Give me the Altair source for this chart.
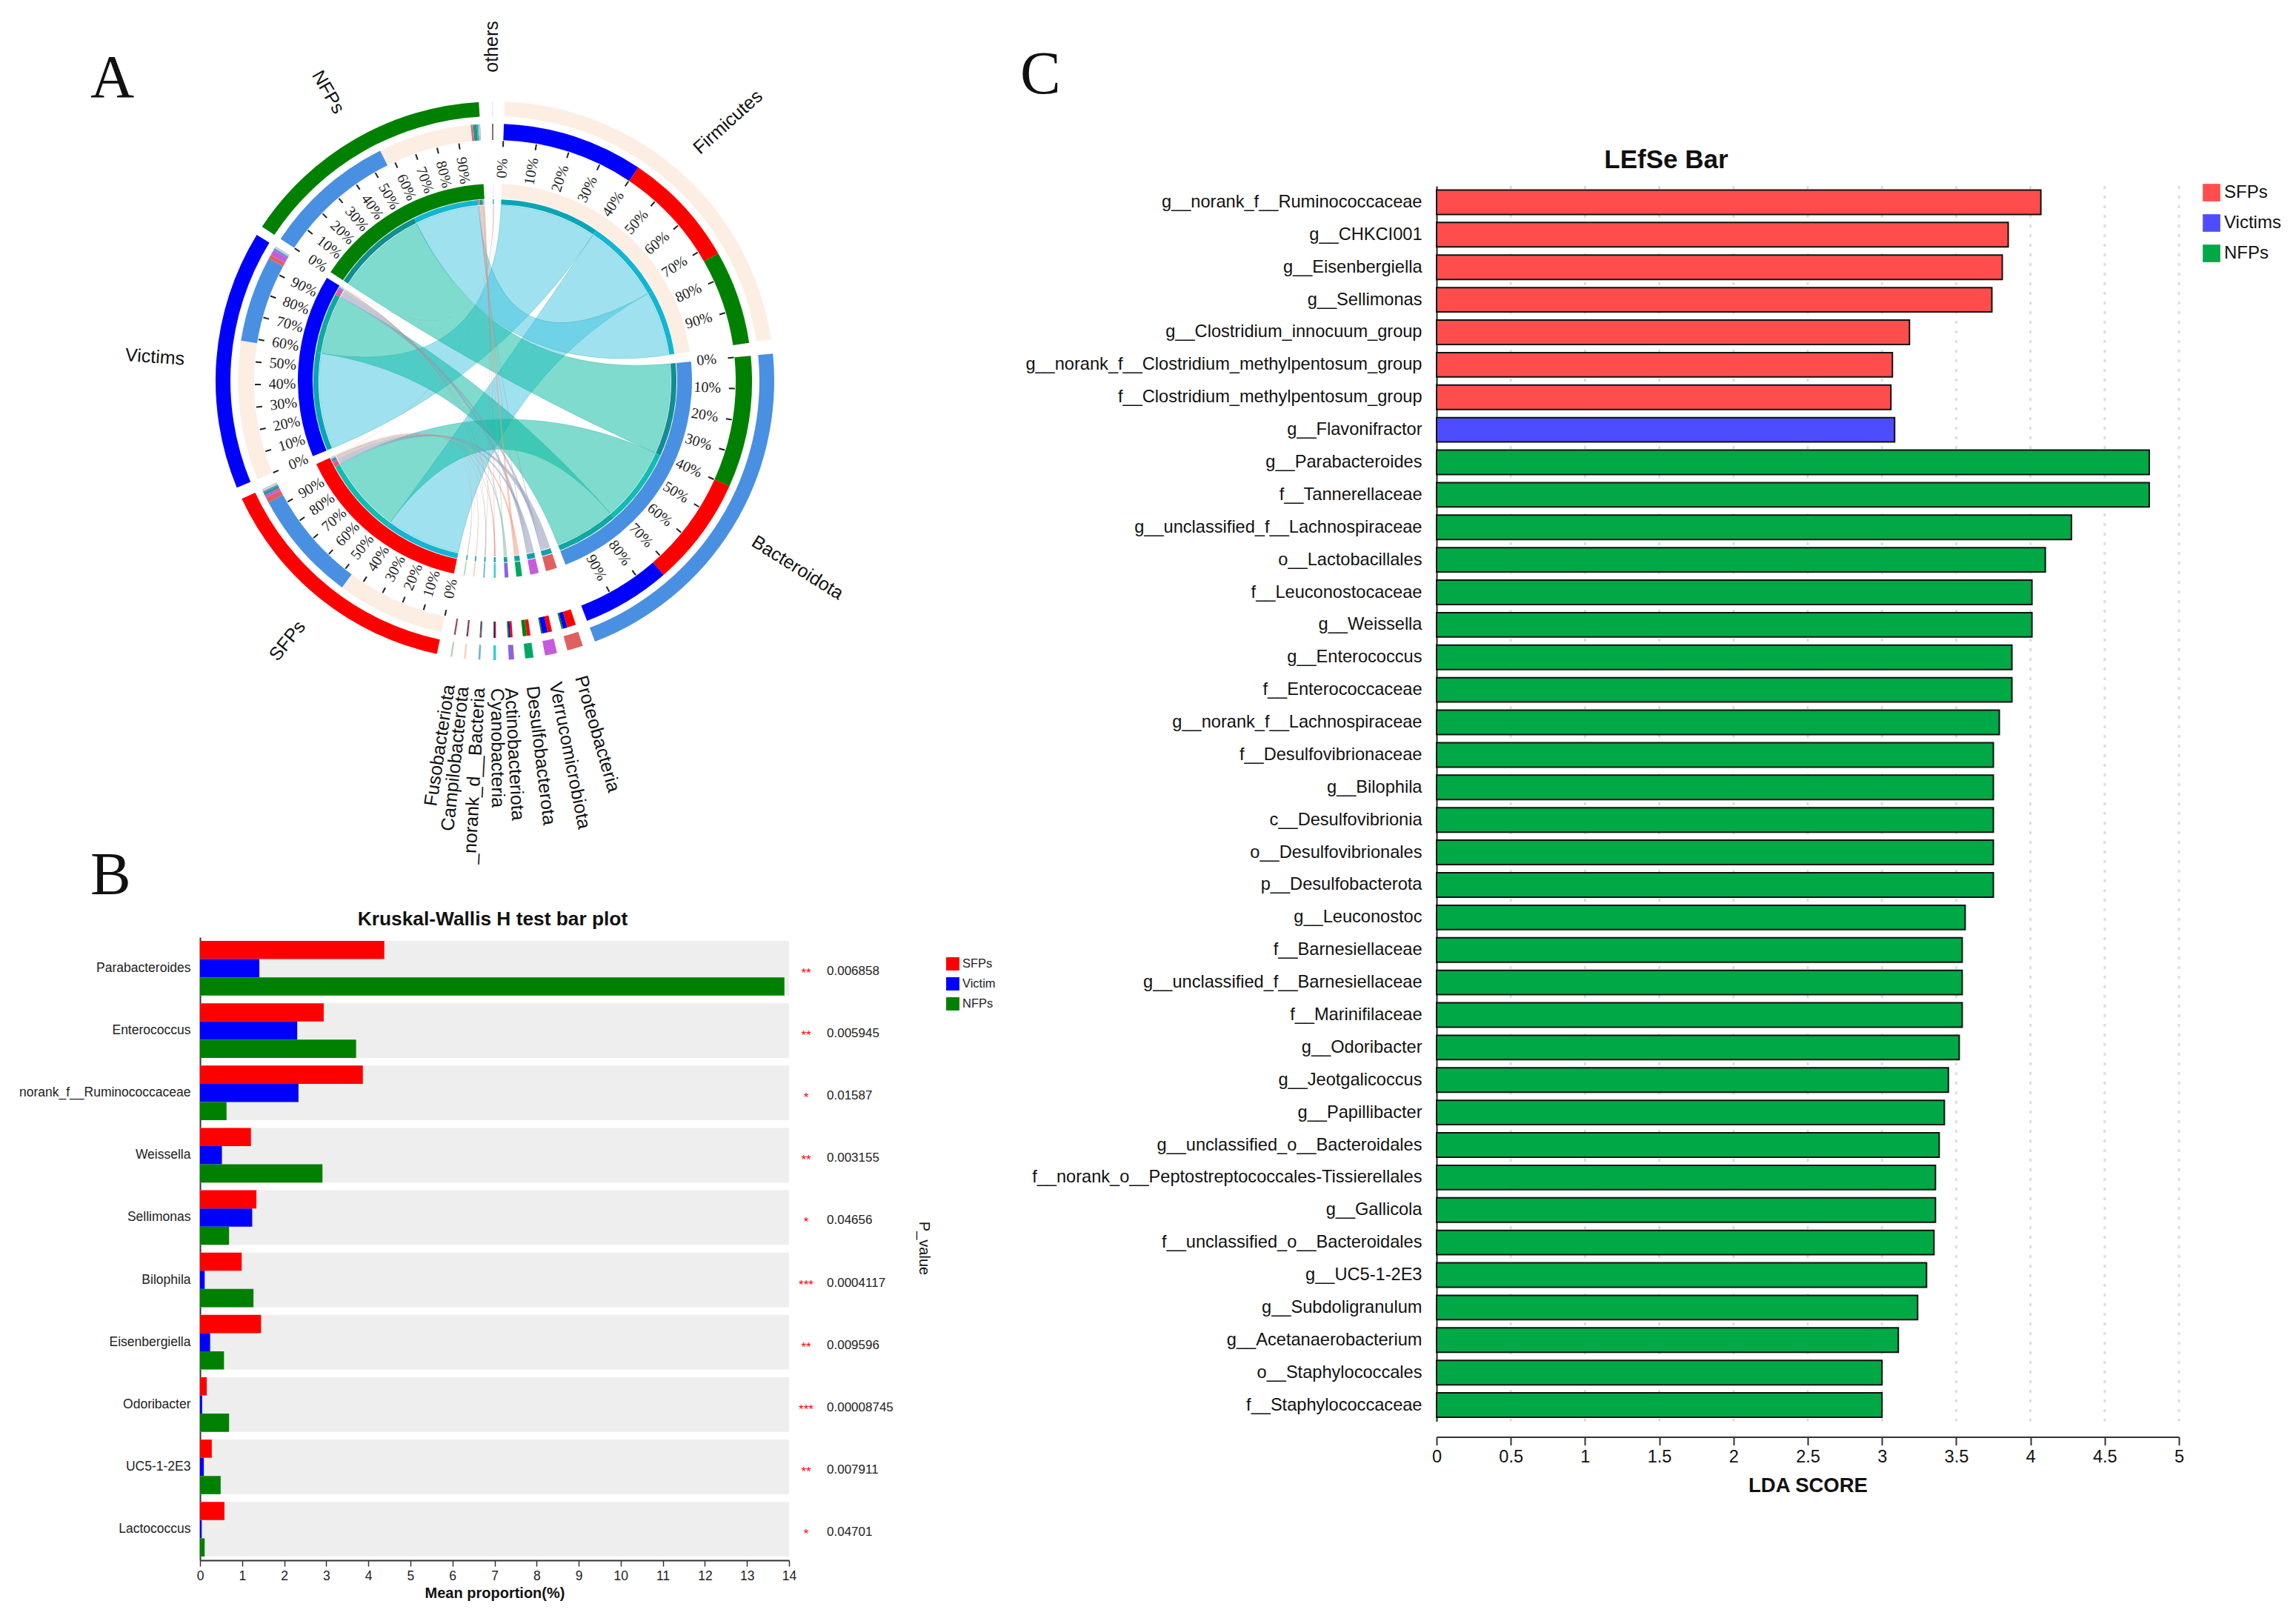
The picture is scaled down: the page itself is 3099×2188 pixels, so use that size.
import math
import altair as alt
import pandas as pd

alt.data_transformers.disable_max_rows()

# ---------- page geometry ----------
W, H = 3083, 2172
SANS = "Liberation Sans"
SERIF = "Liberation Serif"
def px(v): return v - 8

# ---------- Panel A data ----------
CX, CY = px(668), px(514)
major_names = ["Firmicutes", "Bacteroidota", "SFPs", "Victims", "NFPs"]
major_start = [2.0, 84.4, 192.0, 247.5, 303.5]
major_end = [81.5, 159.0, 245.0, 301.5, 356.7]
major_color = ["#fdeee4", "#4a90e2", "#ff0000", "#0000ff", "#008000"]

minor_names = ["Proteobacteria", "Verrucomicrobiota", "Desulfobacterota", "Actinobacteriota",
               "Cyanobacteria", "_norank_d__Bacteria", "Campilobacterota", "Fusobacteriota", "others"]
minor_center = [163.3, 168.4, 172.9, 176.6, 180.05, 183.2, 186.2, 189.0, 359.5]
minor_width = [3.3, 2.5, 1.7, 1.1, 0.55, 0.42, 0.4, 0.35, 0.3]
minor_color = ["#e06060", "#c45cdc", "#00a862", "#8a64e0", "#2fd0d8", "#6fb8cc", "#f7d4b8", "#a9d6a9", "#a27fd8"]
minor_outer = ["#e06060", "#c45cdc", "#00a862", "#8a64e0", "#2fd0d8", "#6fb8cc", "#f7d4b8", "#a9d6a9", "#f3ecf6"]
minor_link = ["#8f97b8", "#8f97b8", "#f09a80", "#7fb8a8", "#e85a5a", "#a09088", "#e0b8a8", "#c8a89a", "#c07878"]
share_sfp = [0.60, 0.40, 0.45, 0.45, 0.40, 0.35, 0.50, 0.50, 0.40]
share_vic = [0.30, 0.50, 0.05, 0.30, 0.30, 0.30, 0.30, 0.25, 0.30]
share_nfp = [0.10, 0.10, 0.50, 0.25, 0.30, 0.35, 0.20, 0.25, 0.30]

link_phylum = ["Firmicutes", "Firmicutes", "Firmicutes", "Bacteroidota", "Bacteroidota", "Bacteroidota"]
link_group = ["Victims", "SFPs", "NFPs", "NFPs", "SFPs", "Victims"]
link_p0 = [2.0, 33.9, 60.3, 84.4, 114.2, 139.0]
link_p1 = [33.9, 60.3, 81.5, 114.2, 139.0, 159.0]
link_g0 = [247.5, 192.0, 333.5, 303.5, 216.5, 279.0]
link_g1 = [279.0, 216.5, 354.6, 333.5, 241.7, 298.4]
link_fill = ["#3fc4e0", "#3fc4e0", "#3fc4e0", "#00b89c", "#00b89c", "#00b89c"]
link_thin = ["#0aa5b5", "#12b5d2", "#12b5d2", "#0f8f8f", "#10bdb0", "#10a8a0"]
group_minor_from = {"SFPs": 241.7, "Victims": 298.4, "NFPs": 354.6}
group_minor_to = {"SFPs": 245.0, "Victims": 301.5, "NFPs": 356.7}
group_color = {"SFPs": "#ff0000", "Victims": "#0000ff", "NFPs": "#008000"}
phylum_color = {"Firmicutes": "#fdeee4", "Bacteroidota": "#4a90e2"}

sector_text = ["Firmicutes", "Bacteroidota", "SFPs", "Victims", "NFPs", "others"]
sector_theta = [42.0, 121.7, 218.6, 274.0, 330.0, 359.5]
sector_r = [470, 480, 449, 460, 450, 451]
sector_angle = [318, 32, 309, 4, 60, 270]
minor_label_theta = [163.8, 168.7, 173.0, 177.0, 179.6, 183.0, 186.0, 188.6]

pct_labels = ["0%", "10%", "20%", "30%", "40%", "50%", "60%", "70%", "80%", "90%"]

R1 = (357, 377); R2 = (325, 347); R3 = (246, 266); R4 = (238, 245); RC = 237

def pol(theta, r):
    t = math.radians(theta)
    return r * math.sin(t), -r * math.cos(t)

arcs = []
def add_arc(a0, a1, rr, col):
    arcs.append(dict(a0=a0, a1=a1, r0=rr[0], r1=rr[1], col=col))

for s, e, c in zip(major_start, major_end, major_color):
    add_arc(s, e, R1, c)
    add_arc(s, e, R3, c)

for g, p0, p1, g0, g1, ph, th in zip(link_group, link_p0, link_p1, link_g0, link_g1, link_phylum, link_thin):
    add_arc(p0, p1, R2, group_color[g])
    add_arc(g0, g1, R2, phylum_color[ph])
    add_arc(p0, p1, R4, th)
    add_arc(g0, g1, R4, th)

ribbons = []
def ribbon(rid, a0, a1, b0, b1, col):
    pts = []
    na = max(2, int(abs(a1 - a0)) + 2)
    for k in range(na):
        pts.append(pol(a0 + (a1 - a0) * k / (na - 1), RC))
    def bez(t0, t1):
        x0, y0 = pol(t0, RC); x1, y1 = pol(t1, RC)
        for k in range(1, 40):
            u = k / 40
            pts.append(((1 - u) ** 2 * x0 + u ** 2 * x1, (1 - u) ** 2 * y0 + u ** 2 * y1))
    bez(a1, b0)
    nb = max(2, int(abs(b1 - b0)) + 2)
    for k in range(nb):
        pts.append(pol(b0 + (b1 - b0) * k / (nb - 1), RC))
    bez(b1, a0)
    for i, (x, y) in enumerate(pts):
        ribbons.append(dict(id=rid, i=i, x=x, y=y, col=col))

for k in range(6):
    ribbon(f"m{k}", link_p0[k], link_p1[k], link_g0[k], link_g1[k], link_fill[k])

# minor phyla: three stacked slices and three thin links
totals = {"SFPs": sum(w * s for w, s in zip(minor_width, share_sfp)),
          "Victims": sum(w * s for w, s in zip(minor_width, share_vic)),
          "NFPs": sum(w * s for w, s in zip(minor_width, share_nfp))}
cursor = dict(group_minor_from)
for j, nm in enumerate(minor_names):
    w = minor_width[j]; c = minor_center[j]
    a = c - w / 2
    add_arc(a, a + w, R1, minor_outer[j])
    add_arc(a, a + w, R3, minor_outer[j] if j == 8 else minor_color[j])
    add_arc(a, a + w, R4, "#12a0a8")
    for g, sh in (("SFPs", share_sfp[j]), ("Victims", share_vic[j]), ("NFPs", share_nfp[j])):
        aw = w * sh
        add_arc(a, a + aw, R2, group_color[g])
        span = (group_minor_to[g] - group_minor_from[g]) * (w * sh) / totals[g]
        g0 = cursor[g]; g1 = g0 + span; cursor[g] = g1
        add_arc(g0, g1, R2, minor_color[j])
        add_arc(g0, g1, R4, minor_color[j])
        ribbon(f"n{j}{g}", a, a + aw, g0, g1, minor_link[j])
        a += aw

arc_df = pd.DataFrame(arcs)
rib_df = pd.DataFrame(ribbons)
major_rib = rib_df[rib_df.id.str.startswith("m")]
minor_rib = rib_df[rib_df.id.str.startswith("n")]

xA = alt.Scale(domain=[-CX, W - CX], range=[0, W], nice=False, zero=False)
yA = alt.Scale(domain=[-CY, H - CY], range=[0, H], nice=False, zero=False)
Xa = alt.X("x:Q", scale=xA, axis=None)
Ya = alt.Y("y:Q", scale=yA, axis=None)

ticks, pcts = [], []
for s, e in zip(major_start, major_end):
    for k, lab in enumerate(pct_labels):
        t = s + (e - s) * k / 10
        x0, y0 = pol(t, 316); x1, y1 = pol(t, 324)
        ticks.append(dict(x=x0, y=y0, x2=x1, y2=y1))
        x, y = pol(t, 287)
        ang = (t - 90 if t < 180 else t - 270) % 360
        pcts.append(dict(x=x, y=y, t=lab, a=ang))

sec_rows = []
for t, th, r, a in zip(sector_text, sector_theta, sector_r, sector_angle):
    x, y = pol(th, r)
    sec_rows.append(dict(x=x, y=y, t=t, a=a))
minL, minR = [], []
for t, th in zip(minor_names[:8], minor_label_theta):
    x, y = pol(th, 415)
    if th < 180.5:
        minL.append(dict(x=x, y=y, t=t, a=(th - 90) % 360))
    else:
        minR.append(dict(x=x, y=y, t=t, a=(th - 270) % 360))

def text_layer(rows, **kw):
    return alt.Chart(pd.DataFrame(rows)).mark_text(baseline="middle", **kw).encode(
        x=Xa, y=Ya, text="t:N", angle=alt.Angle("a:Q", scale=None))

ring_chart = alt.Chart(arc_df).mark_arc(strokeWidth=0).encode(
    x=alt.value(CX), y=alt.value(CY),
    theta=alt.Theta("a0:Q", stack=None, scale=alt.Scale(domain=[0, 360], range=[0, 2 * math.pi])),
    theta2="a1:Q",
    radius=alt.Radius("r1:Q", scale=None),
    radius2="r0:Q",
    color=alt.Color("col:N", scale=None),
)
major_chart = alt.Chart(major_rib).mark_line(
    filled=True, interpolate="linear-closed", fillOpacity=0.5, stroke="#0a9a9a", strokeWidth=1, strokeOpacity=0.3
).encode(x=Xa, y=Ya, order="i:Q", detail="id:N", color=alt.Color("col:N", scale=None))
minor_chart = alt.Chart(minor_rib).mark_line(
    filled=True, interpolate="linear-closed", fillOpacity=0.55, strokeWidth=0
).encode(x=Xa, y=Ya, order="i:Q", detail="id:N", color=alt.Color("col:N", scale=None))
tick_chart = alt.Chart(pd.DataFrame(ticks)).mark_rule(color="#222222", strokeWidth=2).encode(
    x=Xa, y=Ya, x2="x2:Q", y2="y2:Q")

panelA = alt.layer(
    major_chart, minor_chart, ring_chart, tick_chart,
    text_layer(pcts, font=SERIF, fontSize=20, align="center", color="#222222"),
    text_layer(sec_rows, font=SANS, fontSize=25, align="center", color="#111111"),
    text_layer(minL, font=SANS, fontSize=25, align="left", color="#111111"),
    text_layer(minR, font=SANS, fontSize=25, align="right", color="#111111"),
).resolve_scale(color="shared")

# ---------- Panel B data ----------
b_names = ["Parabacteroides", "Enterococcus", "norank_f__Ruminococcaceae", "Weissella", "Sellimonas",
           "Bilophila", "Eisenbergiella", "Odoribacter", "UC5-1-2E3", "Lactococcus"]
b_sfp = [4.38, 2.94, 3.87, 1.21, 1.34, 0.99, 1.45, 0.16, 0.28, 0.58]
b_vic = [1.41, 2.31, 2.34, 0.52, 1.24, 0.11, 0.24, 0.05, 0.09, 0.04]
b_nfp = [13.89, 3.71, 0.63, 2.91, 0.69, 1.27, 0.57, 0.69, 0.49, 0.11]
b_stars = ["**", "**", "*", "**", "*", "***", "**", "***", "**", "*"]
b_p = ["0.006858", "0.005945", "0.01587", "0.003155", "0.04656", "0.0004117", "0.009596", "0.00008745", "0.007911", "0.04701"]
b_groups = ["SFPs", "Victim", "NFPs"]
b_colors = ["#ff0000", "#0000ff", "#008000"]
b_ticks = list(range(0, 15))
BX = (px(270), px(1065)); BY = (px(1265), px(2106))

b_long = pd.DataFrame(
    [dict(name=n, group=g, v=v) for g, vals in zip(b_groups, (b_sfp, b_vic, b_nfp)) for n, v in zip(b_names, vals)])
b_meta = pd.DataFrame(dict(name=b_names, star=b_stars, p=b_p, full=[14] * 10))
xB = alt.Scale(domain=[0, 14], range=list(BX), nice=False, zero=False)
yB = alt.Scale(domain=b_names, range=list(BY), paddingInner=0.124, paddingOuter=0.06)
b_xax = alt.Axis(orient="bottom", offset=BY[1] - H, values=b_ticks, format="d", grid=False,
                 labelFont=SANS, labelFontSize=17.5, labelColor="#222222", tickColor="#333333", tickSize=8,
                 domainColor="#333333", domainWidth=2, tickWidth=1.5, labelPadding=4, labelFlush=False,
                 title="Mean proportion(%)", titleFont=SANS, titleFontSize=20, titleFontWeight="bold",
                 titleColor="#111111", titlePadding=5)
b_yax = alt.Axis(orient="left", offset=-BX[0], ticks=False, grid=False, labelFont=SANS, labelFontSize=17.5,
                 labelColor="#222222", labelPadding=13, labelLimit=500, domainColor="#333333", domainWidth=2,
                 title=None)
b_bg = alt.Chart(b_meta).mark_bar(color="#eeeeee").encode(
    x=alt.X("full:Q", scale=xB, axis=b_xax),
    y=alt.Y("name:N", sort=b_names, scale=yB, axis=b_yax))
b_bars = alt.Chart(b_long).mark_bar().encode(
    x=alt.X("v:Q", scale=xB, axis=b_xax),
    y=alt.Y("name:N", sort=b_names, scale=yB, axis=b_yax),
    yOffset=alt.YOffset("group:N", sort=b_groups, scale=alt.Scale(paddingInner=0, paddingOuter=0)),
    color=alt.Color("group:N", sort=b_groups, scale=alt.Scale(domain=b_groups, range=b_colors),
                    legend=alt.Legend(orient="none", legendX=px(1277), legendY=px(1292), title=None,
                                      symbolType="square", symbolSize=320, symbolStrokeWidth=0,
                                      labelFont=SANS, labelFontSize=16.5, labelColor="#222222", rowPadding=9,
                                      labelOffset=4)),
)
b_star = alt.Chart(b_meta).mark_text(color="#ff0000", fontSize=17, font=SANS, dy=7, align="center", baseline="middle").encode(
    x=alt.value(px(1088)), y=alt.Y("name:N", sort=b_names, scale=yB, axis=b_yax), text="star:N")
b_ptext = alt.Chart(b_meta).mark_text(color="#222222", fontSize=17, font=SANS, dy=4, align="left", baseline="middle").encode(
    x=alt.value(px(1116)), y=alt.Y("name:N", sort=b_names, scale=yB, axis=b_yax), text="p:N")
panelB = alt.layer(b_bg, b_bars, b_star, b_ptext)

# ---------- Panel C data ----------
c_names = ["g__norank_f__Ruminococcaceae", "g__CHKCI001", "g__Eisenbergiella", "g__Sellimonas",
           "g__Clostridium_innocuum_group", "g__norank_f__Clostridium_methylpentosum_group",
           "f__Clostridium_methylpentosum_group", "g__Flavonifractor", "g__Parabacteroides", "f__Tannerellaceae",
           "g__unclassified_f__Lachnospiraceae", "o__Lactobacillales", "f__Leuconostocaceae", "g__Weissella",
           "g__Enterococcus", "f__Enterococcaceae", "g__norank_f__Lachnospiraceae", "f__Desulfovibrionaceae",
           "g__Bilophila", "c__Desulfovibrionia", "o__Desulfovibrionales", "p__Desulfobacterota", "g__Leuconostoc",
           "f__Barnesiellaceae", "g__unclassified_f__Barnesiellaceae", "f__Marinifilaceae", "g__Odoribacter",
           "g__Jeotgalicoccus", "g__Papillibacter", "g__unclassified_o__Bacteroidales",
           "f__norank_o__Peptostreptococcales-Tissierellales", "g__Gallicola", "f__unclassified_o__Bacteroidales",
           "g__UC5-1-2E3", "g__Subdoligranulum", "g__Acetanaerobacterium", "o__Staphylococcales", "f__Staphylococcaceae"]
c_vals = [4.07, 3.85, 3.81, 3.74, 3.185, 3.07, 3.06, 3.085, 4.80, 4.80, 4.276, 4.10, 4.01, 4.01, 3.875, 3.875,
          3.79, 3.75, 3.75, 3.75, 3.75, 3.75, 3.56, 3.54, 3.54, 3.54, 3.52, 3.447, 3.42, 3.385, 3.36, 3.36, 3.35,
          3.30, 3.24, 3.11, 3.0, 3.0]
c_groups_list = ["SFPs"] * 7 + ["Victims"] + ["NFPs"] * 30
c_groups = ["SFPs", "Victims", "NFPs"]
c_colors = ["#ff4d4d", "#4d4dff", "#00a846"]
c_ticks = [0, 0.5, 1, 1.5, 2, 2.5, 3, 3.5, 4, 4.5, 5]
c_grid = [0.5, 1, 1.5, 2, 2.5, 3, 3.5, 4, 4.5, 5]
CXR = (px(1939), px(2941)); CYR = (px(251), px(1918.5))

c_df = pd.DataFrame(dict(name=c_names, v=c_vals, group=c_groups_list))
xC = alt.Scale(domain=[0, 5], range=list(CXR), nice=False, zero=False)
yC = alt.Scale(domain=c_names, range=list(CYR), paddingInner=0.25, paddingOuter=0.125)
c_xax = alt.Axis(orient="bottom", offset=px(1939.5) - H, values=c_ticks, grid=False,
                 labelFont=SANS, labelFontSize=23.5, labelColor="#111111", labelExpr="datum.value", labelFlush=False,
                 tickColor="#333333", tickSize=11, tickWidth=2, domainColor="#333333", domainWidth=2, labelPadding=4,
                 title="LDA SCORE", titleFont=SANS, titleFontSize=27.5, titleFontWeight="bold", titleColor="#111111",
                 titlePadding=13)
c_yax = alt.Axis(orient="left", offset=-CXR[0], ticks=False, grid=False, labelFont=SANS, labelFontSize=23.6,
                 labelColor="#111111", labelPadding=20, labelLimit=800, domainColor="#222222", domainWidth=2,
                 title=None)
c_rule = alt.Chart(pd.DataFrame(dict(g=c_grid))).mark_rule(color="#dddddd", strokeWidth=3, strokeDash=[4, 9]).encode(
    x=alt.X("g:Q", scale=xC, axis=c_xax), y=alt.value(CYR[0]), y2=alt.value(CYR[1]))
c_bars = alt.Chart(c_df).mark_bar(stroke="#111111", strokeWidth=2).encode(
    x=alt.X("v:Q", scale=xC, axis=c_xax),
    y=alt.Y("name:N", sort=c_names, scale=yC, axis=c_yax),
    color=alt.Color("group:N", sort=c_groups, scale=alt.Scale(domain=c_groups, range=c_colors),
                    legend=alt.Legend(orient="none", legendX=px(2973), legendY=px(248), title=None,
                                      symbolType="square", symbolSize=560, symbolStrokeWidth=0,
                                      labelFont=SANS, labelFontSize=24, labelColor="#111111", rowPadding=17,
                                      labelOffset=5)),
)
panelC = alt.layer(c_rule, c_bars)

# ---------- free texts ----------
def note(t, x, y, size, font=SANS, weight="normal", angle=0, align="center", baseline="middle"):
    return alt.Chart(pd.DataFrame(dict(t=[t]))).mark_text(
        font=font, fontSize=size, fontWeight=weight, angle=angle, align=align, baseline=baseline, color="#111111"
    ).encode(x=alt.value(px(x)), y=alt.value(px(y)), text="t:N")

notes = alt.layer(
    note("A", 122, 131, 82, font=SERIF, align="left", baseline="alphabetic"),
    note("B", 122, 1207, 82, font=SERIF, align="left", baseline="alphabetic"),
    note("C", 1377, 126, 82, font=SERIF, align="left", baseline="alphabetic"),
    note("Kruskal-Wallis H test bar plot", 665, 1241, 26.3, weight="bold"),
    note("P_value", 1247, 1685, 20, angle=90),
    note("LEfSe Bar", 2249, 216, 35, weight="bold"),
)

chart = alt.layer(panelA, panelB, panelC, notes).resolve_scale(
    x="independent", y="independent", color="independent"
).properties(
    width=W, height=H, padding=0, autosize=alt.AutoSizeParams(type="none"), background="white"
).configure_view(stroke=None)

chart.save("out.html", embed_options={"renderer": "svg", "actions": False})
